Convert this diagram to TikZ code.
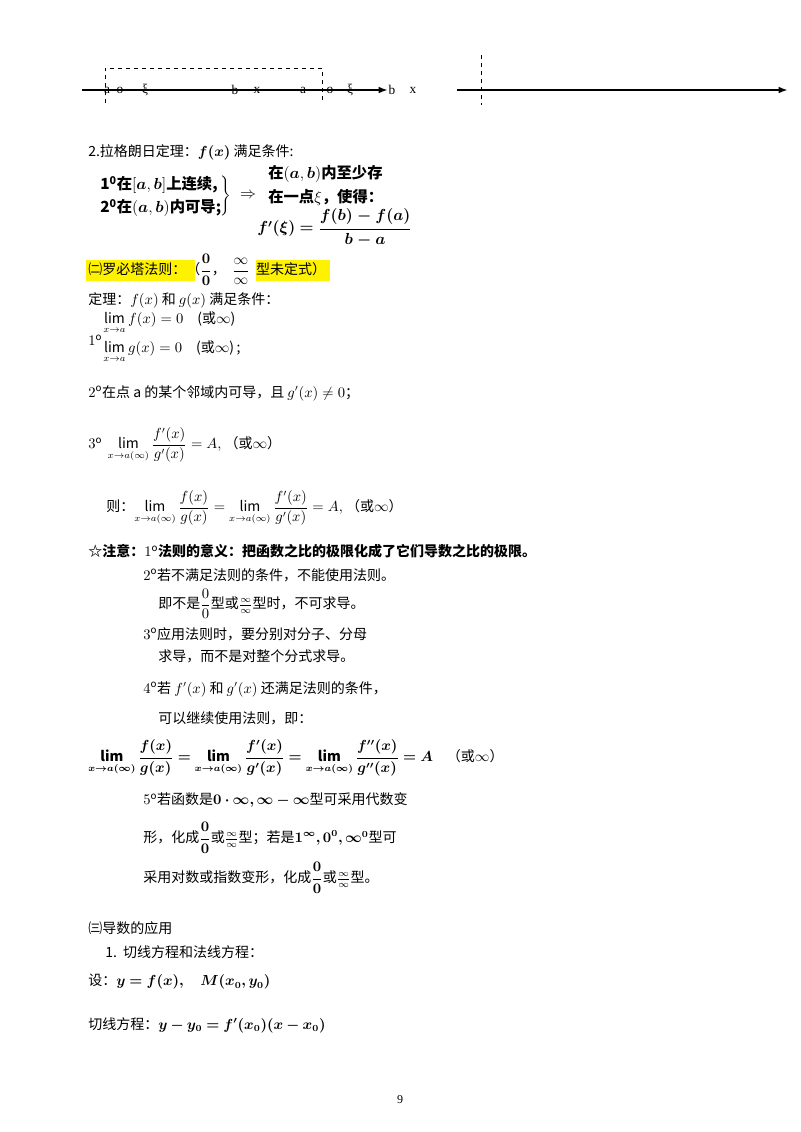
\documentclass[tikz,border=0pt]{standalone}
\usepackage{amsmath,bm}
\usepackage{fontspec}
\setmainfont{Noto Sans CJK SC}
\newfontfamily\serif{Liberation Serif}
\usetikzlibrary{arrows.meta}
\begin{document}
\begin{tikzpicture}[x=0.75pt,y=-0.75pt,
  t/.style={anchor=west,inner sep=0pt,font=\fontsize{10.5}{12}\selectfont},
  tb/.style={t,font=\fontsize{11.5}{13}\selectfont\bfseries},
  al/.style={font=\serif\fontsize{10}{11}\selectfont},
  ax/.style={line width=1.4pt,-{Latex[length=7pt,width=5pt]}},
  dsh/.style={dashed,line width=0.6pt}]
\useasboundingbox (0,0) rectangle (800,1132);
% axes
\coordinate (a1) at (82,90); \coordinate (a2) at (388,90);
\draw[ax] (a1) -- (a2);
\draw[dsh] (105,103) -- (105,68) -- (322,68) -- (322,103);
\foreach \x/\l in {107/a,120/o,235/b,257/x,303/a,330/o,392/b,413/x}
  \node[al] at (\x,90) {\l};
\foreach \x in {145,350}
  \node[al] at (\x,90) {ξ};
\coordinate (b1) at (457,90); \coordinate (b2) at (788,90);
\draw[ax] (b1) -- (b2);
\draw[dsh] (481,55) -- (481,105);
% Lagrange
\node[t] (l0) at (88,152) {2.拉格朗日定理：$\bm{f(x)}$ 满足条件:};
\node[tb] (l1) at (100,185) {$\mathbf{1^0}$在$[\bm{a},\bm{b}]$上连续,};
\node[tb] (l2) at (100,208) {$\mathbf{2^0}$在$(\bm{a},\bm{b})$内可导;};
\node (br) at (225,196) {$\left.\rule{0pt}{16pt}\right\}$};
\node[font=\large] (imp) at (248,196) {$\Rightarrow$};
\node[tb] (r1) at (268,174) {在$(\bm{a},\bm{b})$内至少存};
\node[tb] (r2) at (268,197) {在一点$\xi$，使得：};
\node[tb] (r3) at (257,228) {$\bm{f'(\xi)=\dfrac{f(b)-f(a)}{b-a}}$};
% highlight
\fill[yellow] (86,260) rectangle (195,281);
\fill[yellow] (256,260) rectangle (330,281);
\node[t] (h) at (88,270) {㈡罗必塔法则：（$\bm{\dfrac{0}{0}}$，\ \ $\dfrac{\infty}{\infty}$ \ 型未定式）};
\node[t] (d) at (88,300) {定理：$f(x)$ 和 $g(x)$ 满足条件：};
\node[t] (c1) at (88,340) {$1^{\mathrm o}$};
\node[t] (c1a) at (103,323) {$\lim\limits_{x\to a} f(x)=0$\quad(或$\infty$)};
\node[t] (c1b) at (103,352) {$\lim\limits_{x\to a} g(x)=0$\quad(或$\infty$)\,;};
\node[t] (c2) at (88,393) {$2^{\mathrm o}$在点 a 的某个邻域内可导，且 $g'(x)\neq0$；};
\node[t] (c3) at (88,445) {$3^{\mathrm o}\ \lim\limits_{x\to a(\infty)}\dfrac{f'(x)}{g'(x)}=A,$\ （或$\infty$）};
\node[t] (c4) at (106,508) {则：$\lim\limits_{x\to a(\infty)}\dfrac{f(x)}{g(x)}=\lim\limits_{x\to a(\infty)}\dfrac{f'(x)}{g'(x)}=A,$\ （或$\infty$）};
% notes
\node[t,font=\fontsize{10.5}{12}\selectfont\bfseries] (n1) at (88,551) {☆注意：$1^{\mathrm o}$法则的意义：把函数之比的极限化成了它们导数之比的极限。};
\node[t] (n2) at (143,575) {$2^{\mathrm o}$若不满足法则的条件，不能使用法则。};
\node[t] (n3) at (158,604) {即不是$\dfrac{0}{0}$型或$\frac{\infty}{\infty}$型时，不可求导。};
\node[t] (n4) at (143,634) {$3^{\mathrm o}$应用法则时，要分别对分子、分母};
\node[t] (n5) at (158,656) {求导，而不是对整个分式求导。};
\node[t] (n6) at (143,689) {$4^{\mathrm o}$若 $f'(x)$ 和 $g'(x)$ 还满足法则的条件，};
\node[t] (n7) at (158,718) {可以继续使用法则，即：};
\node[t] (eq) at (88,758) {$\bm{\lim\limits_{x\to a(\infty)}\dfrac{f(x)}{g(x)}=\lim\limits_{x\to a(\infty)}\dfrac{f'(x)}{g'(x)}=\lim\limits_{x\to a(\infty)}\dfrac{f''(x)}{g''(x)}=A}$\quad （或$\infty$）};
\node[t] (n8) at (143,800) {$5^{\mathrm o}$若函数是$\bm{0\cdot\infty,\infty-\infty}$型可采用代数变};
\node[t] (n9) at (143,838) {形，化成$\bm{\dfrac{0}{0}}$或$\frac{\infty}{\infty}$型；若是$\bm{1^\infty,0^0,\infty^0}$型可};
\node[t] (n10) at (143,878) {采用对数或指数变形，化成$\bm{\dfrac{0}{0}}$或$\frac{\infty}{\infty}$型。};
% applications
\node[t] (s1) at (88,928) {㈢导数的应用};
\node[t] (s2) at (105,952) {1.\ \ 切线方程和法线方程：};
\node[t] (s3) at (88,982) {设：$\bm{y=f(x),\quad M(x_0,y_0)}$};
\node[t] (s4) at (88,1025) {切线方程：$\bm{y-y_0=f'(x_0)(x-x_0)}$};
\node[font=\serif\fontsize{9}{10}\selectfont] (pg) at (400,1100) {9};
\end{tikzpicture}
\end{document}
